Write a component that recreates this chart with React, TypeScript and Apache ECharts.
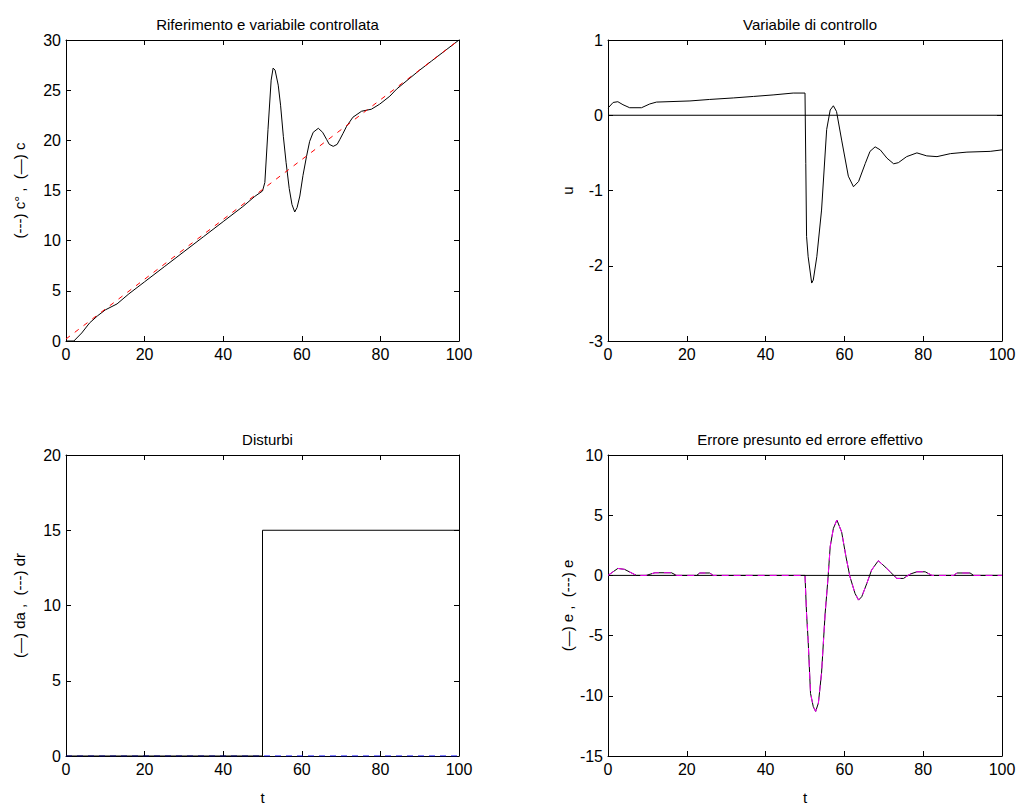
import React, { useEffect, useRef } from "react";
import * as echarts from "echarts";

// ---- Data ----
const titles = [
  "Riferimento e variabile controllata",
  "Variabile di controllo",
  "Disturbi",
  "Errore presunto ed errore effettivo",
];
const yNames = ["(---) c° ,  (—) c", "u", "(—) da ,  (---) dr", "(—) e ,  (---) e"];

// reference c° (ramp)
const cRef: [number, number][] = [
  [0, 0.2],
  [100, 30],
];
// controlled variable c
const cOut: [number, number][] = [
  [0, 0], [2, 0], [4, 0.8], [6, 1.8], [8, 2.5], [10, 3.1], [13, 3.7], [16, 4.7],
  [20, 5.9], [25, 7.4], [30, 8.9], [35, 10.4], [40, 11.9], [45, 13.4], [48, 14.4],
  [50, 14.95], [50.6, 15.8], [51.4, 21.1], [52.2, 26], [52.7, 27.2], [53.2, 27],
  [54, 25.5], [54.6, 23.5], [55.3, 20.4], [56, 17.8], [56.8, 15.2], [57.5, 13.6],
  [58.2, 12.86], [58.8, 13.3], [59.5, 14.45], [60.3, 16.5], [61.2, 18.4], [62, 19.9],
  [62.9, 20.8], [64.2, 21.2], [65.3, 20.8], [66.3, 20.1], [67, 19.6], [68, 19.4],
  [69, 19.6], [69.7, 20.1], [70.5, 20.7], [71.4, 21.4], [73, 22.3], [75.2, 22.9],
  [77.7, 23.1], [79.8, 23.6], [82.4, 24.4], [84.1, 25.1], [87.5, 26.2], [90, 27],
  [93, 27.9], [96, 28.8], [100, 30],
];
// control variable u
const uVals: [number, number][] = [
  [0, 0.095], [1.3, 0.17], [2.5, 0.18], [3.8, 0.14], [5.5, 0.1], [8.5, 0.1],
  [10.6, 0.15], [12.3, 0.175], [20.8, 0.19], [25.8, 0.21], [31.8, 0.23],
  [36.9, 0.25], [41.9, 0.27], [47, 0.295], [50, 0.295], [50.2, -0.64],
  [50.4, -1.61], [50.8, -1.88], [51.7, -2.23], [52.1, -2.19], [53, -1.88],
  [54.2, -1.26], [55.5, -0.19], [56.4, 0.07], [57.2, 0.126], [58, 0.05],
  [59.3, -0.33], [61, -0.81], [62.3, -0.95], [63.6, -0.88], [65.3, -0.64],
  [66.5, -0.48], [67.8, -0.42], [69.1, -0.46], [70.8, -0.57], [72.5, -0.645],
  [73.7, -0.63], [75.8, -0.55], [78.4, -0.5], [80.9, -0.54], [83.5, -0.55],
  [86.9, -0.51], [91.1, -0.49], [97, -0.48], [100, -0.46],
];
// disturbances
const daVals: [number, number][] = [
  [0, 0], [50, 0], [50, 15], [100, 15],
];
const drVals: [number, number][] = [
  [0, 0], [100, 0],
];
// errors
const eEff: [number, number][] = [
  [0, 0], [2.5, 0.58], [4.2, 0.5], [7.2, 0], [9.7, 0], [11.9, 0.22], [16.1, 0.22],
  [17.4, 0], [22.5, 0], [23.3, 0.2], [25.8, 0.2], [26.7, 0], [50, 0], [50.4, -3.2],
  [50.8, -5.4], [51.4, -9.8], [52.1, -10.9], [52.7, -11.3], [53.4, -10.6],
  [54.2, -8.1], [55.1, -3.2], [55.8, -0.4], [56.4, 2.4], [57.2, 3.9], [58.1, 4.6],
  [59.3, 3.6], [60.4, 1.55], [61.4, -0.1], [62.7, -1.5], [63.6, -2.05],
  [64.4, -1.77], [65.7, -0.66], [66.9, 0.44], [68.6, 1.22], [70.3, 0.72],
  [71.6, 0.3], [73.3, -0.25], [75, -0.25], [76.7, 0.11], [78.4, 0.3], [80.5, 0.3],
  [82.2, 0], [87.7, 0], [88.6, 0.2], [91.9, 0.2], [92.8, 0], [100, 0],
];
const ePres: [number, number][] = [
  [0, 0], [2.5, 0.58], [4.2, 0.5], [7.2, 0], [9.7, 0], [11.9, 0.22], [16.1, 0.22],
  [17.4, 0], [22.5, 0], [23.3, 0.2], [25.8, 0.2], [26.7, 0], [50, 0], [50.4, -3.2],
  [50.8, -5.4], [51.4, -9.8], [52.1, -10.9], [52.7, -11.3], [53.4, -10.6],
  [54.2, -8.1], [55.1, -3.2], [55.8, -0.4], [56.4, 2.4], [57.2, 3.9], [58.1, 4.6],
  [59.3, 3.6], [60.4, 1.55], [61.4, -0.1], [62.7, -1.5], [63.6, -2.05],
  [64.4, -1.77], [65.7, -0.66], [66.9, 0.44], [68.6, 1.22], [70.3, 0.72],
  [71.6, 0.3], [73.3, -0.25], [75, -0.25], [76.7, 0.11], [78.4, 0.3], [80.5, 0.3],
  [82.2, 0], [87.7, 0], [88.6, 0.2], [91.9, 0.2], [92.8, 0], [100, 0],
];
const zeroLine: [number, number][] = [
  [0, 0], [100, 0],
];

const yRanges = [
  { min: 0, max: 30, interval: 5 },
  { min: -3, max: 1, interval: 1 },
  { min: 0, max: 20, interval: 5 },
  { min: -15, max: 10, interval: 5 },
];
const xRange = { min: 0, max: 100, interval: 20 };

const FONT = "'Liberation Sans', Arial, Helvetica, sans-serif";
const TICK_FS = 16;
const LABEL_FS = 15;

export default function App() {
  const ref = useRef<HTMLDivElement>(null);
  useEffect(() => {
    if (!ref.current) return;
    const chart = echarts.init(ref.current, undefined, { renderer: "svg" });
    const grids = [
      { left: 66, top: 40, width: 393, height: 301 },
      { left: 608, top: 40, width: 394, height: 301 },
      { left: 66, top: 455, width: 393, height: 301 },
      { left: 608, top: 455, width: 394, height: 301 },
    ];
    const axisLine = { show: true, onZero: false, lineStyle: { color: "#000", width: 1 } };
    const tick = { inside: true, length: 5, lineStyle: { color: "#000" } };
    const xAxes: any[] = [];
    const yAxes: any[] = [];
    grids.forEach((g, i) => {
      xAxes.push({
        type: "value",
        gridIndex: i,
        position: "bottom",
        min: xRange.min,
        max: xRange.max,
        interval: xRange.interval,
        axisLine,
        axisTick: tick,
        axisLabel: { color: "#000", fontSize: TICK_FS, fontFamily: FONT, margin: 5 },
        splitLine: { show: false },
        name: i >= 2 ? "t" : "",
        nameLocation: "middle",
        nameGap: 34,
        nameTextStyle: { color: "#000", fontSize: LABEL_FS, fontFamily: FONT },
      });
      xAxes.push({
        type: "value",
        gridIndex: i,
        position: "top",
        min: xRange.min,
        max: xRange.max,
        interval: xRange.interval,
        axisLine,
        axisTick: tick,
        axisLabel: { show: false },
        splitLine: { show: false },
      });
      const yr = yRanges[i];
      yAxes.push({
        type: "value",
        gridIndex: i,
        position: "left",
        min: yr.min,
        max: yr.max,
        interval: yr.interval,
        axisLine,
        axisTick: tick,
        axisLabel: { color: "#000", fontSize: TICK_FS, fontFamily: FONT, margin: 5 },
        splitLine: { show: false },
        name: yNames[i],
        nameLocation: "middle",
        nameRotate: 90,
        nameGap: i % 2 === 0 ? 39 : 33,
        nameTextStyle: { color: "#000", fontSize: LABEL_FS, fontFamily: FONT },
      });
      yAxes.push({
        type: "value",
        gridIndex: i,
        position: "right",
        min: yr.min,
        max: yr.max,
        interval: yr.interval,
        axisLine,
        axisTick: tick,
        axisLabel: { show: false },
        splitLine: { show: false },
      });
    });
    const line = (
      data: [number, number][],
      gi: number,
      color: string,
      dashed?: number[],
      z = 2
    ) => ({
      type: "line",
      xAxisIndex: gi * 2,
      yAxisIndex: gi * 2,
      data,
      showSymbol: false,
      symbol: "none",
      z,
      lineStyle: { color, width: 1, type: dashed || "solid" },
      silent: true,
    });
    chart.setOption({
      animation: false,
      backgroundColor: "#fff",
      title: titles.map((t, i) => ({
        text: t,
        left: grids[i].left + grids[i].width / 2,
        top: grids[i].top - 28,
        textAlign: "center",
        textStyle: { color: "#000", fontSize: LABEL_FS, fontWeight: "normal", fontFamily: FONT },
      })),
      grid: grids,
      xAxis: xAxes,
      yAxis: yAxes,
      series: [
        line(cOut, 0, "#000"),
        line(cRef, 0, "#ff0000", [5, 6], 3),
        line(zeroLine, 1, "#000"),
        line(uVals, 1, "#000"),
        line(drVals, 2, "#0000ff", [6, 5]),
        line(daVals, 2, "#000", undefined, 3),
        line(zeroLine, 3, "#000"),
        line(eEff, 3, "#000"),
        line(ePres, 3, "#ff00ff", [7, 5], 3),
      ],
    });
    return () => chart.dispose();
  }, []);
  return (
    <div
      ref={ref}
      style={{ position: "fixed", left: 0, top: 0, width: 1021, height: 807 }}
    />
  );
}
